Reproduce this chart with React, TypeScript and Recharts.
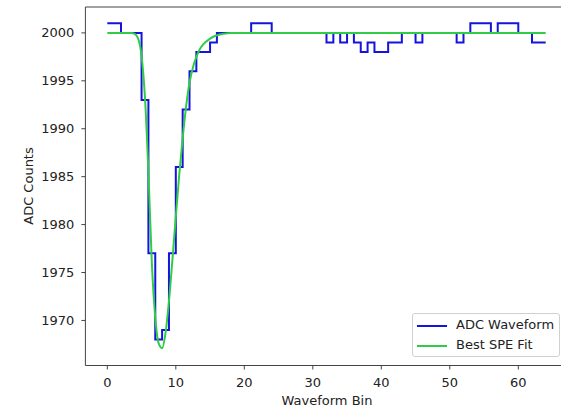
import React from 'react';
import { LineChart, Line, XAxis, YAxis, Legend, ReferenceLine } from 'recharts';

const adcValues: number[] = [
  2001, 2001, 2000, 2000, 2000, 1993, 1977, 1968, 1969, 1977,
  1986, 1992, 1996, 1998, 1998, 1999, 2000, 2000, 2000, 2000,
  2000, 2001, 2001, 2001, 2000, 2000, 2000, 2000, 2000, 2000,
  2000, 2000, 1999, 2000, 1999, 2000, 1999, 1998, 1999, 1998,
  1998, 1999, 1999, 2000, 2000, 1999, 2000, 2000, 2000, 2000,
  2000, 1999, 2000, 2001, 2001, 2001, 2000, 2001, 2001, 2001,
  2000, 2000, 1999, 1999,
];

const fitX: number[] = [0, 3, 3.5, 4, 4.5, 5, 5.5, 6, 6.5, 7, 7.5, 8, 8.5, 9, 9.5, 10, 10.5, 11, 11.5, 12, 12.5, 13, 13.5, 14, 15, 16, 17, 18, 64];
const fitY: number[] = [2000, 2000, 2000, 1999.9, 1999.4, 1997.6, 1993.2, 1985.5, 1976, 1970.3, 1967.6, 1967.1, 1968.7, 1972, 1976.3, 1980.8, 1985.2, 1989, 1992.3, 1994.8, 1996.4, 1997.5, 1998.3, 1998.8, 1999.4, 1999.75, 1999.92, 2000, 2000];

const xTicks: number[] = [0, 10, 20, 30, 40, 50, 60];
const yTicks: number[] = [1970, 1975, 1980, 1985, 1990, 1995, 2000];
const xDomain: [number, number] = [-3.2, 67.2];
const yDomain: [number, number] = [1965.3, 2002.7];

const adcData = [
  ...adcValues.map((v, i) => ({ x: i, y: v })),
  { x: adcValues.length, y: adcValues[adcValues.length - 1] },
];
const fitData = fitX.map((x, i) => ({ x, y: fitY[i] }));

const FONT = "'DejaVu Sans', sans-serif";
const BLUE = '#1414dc';
const GREEN = '#30cc46';
const AXIS = '#444';

const LegendBox = () => (
  <div
    style={{
      width: 148,
      height: 44,
      border: '1px solid #d0d0d0',
      borderRadius: 3,
      background: 'rgba(255,255,255,0.85)',
      fontFamily: FONT,
      fontSize: 13,
      color: '#222',
      position: 'relative',
      boxSizing: 'border-box',
    }}
  >
    {[
      { label: 'ADC Waveform', color: BLUE, top: 12 },
      { label: 'Best SPE Fit', color: GREEN, top: 32 },
    ].map((r) => (
      <div key={r.label}>
        <div style={{ position: 'absolute', left: 4, top: r.top - 1, width: 30, height: 2, background: r.color }} />
        <div style={{ position: 'absolute', left: 43, top: r.top - 9, lineHeight: '16px', whiteSpace: 'nowrap' }}>{r.label}</div>
      </div>
    ))}
  </div>
);

export default function App() {
  return (
    <div style={{ position: 'absolute', left: 0, top: 0, width: 561, height: 409, overflow: 'hidden', background: '#fff' }}>
      <LineChart width={580} height={409} margin={{ top: 7, right: 12.4, bottom: 0, left: 0 }}>
        <XAxis
          type="number"
          dataKey="x"
          domain={xDomain}
          allowDataOverflow
          ticks={xTicks}
          height={43.5}
          tickSize={4}
          tickMargin={8}
          axisLine={{ stroke: AXIS, strokeWidth: 1 }}
          tickLine={{ stroke: AXIS }}
          tick={{ fill: '#222', fontSize: 13, fontFamily: FONT }}
          label={{
            content: () => (
              <text x={327} y={400} textAnchor="middle" dominantBaseline="central" fill="#222" fontSize={13} fontFamily={FONT}>
                Waveform Bin
              </text>
            ),
          }}
        />
        <YAxis
          type="number"
          domain={yDomain}
          allowDataOverflow
          ticks={yTicks}
          width={85.4}
          tickSize={4}
          tickMargin={7}
          axisLine={{ stroke: AXIS, strokeWidth: 1 }}
          tickLine={{ stroke: AXIS }}
          tick={{ fill: '#222', fontSize: 13, fontFamily: FONT }}
          label={{
            content: () => (
              <text x={28} y={186} transform="rotate(-90 28 186)" textAnchor="middle" dominantBaseline="central" fill="#222" fontSize={13} fontFamily={FONT}>
                ADC Counts
              </text>
            ),
          }}
        />
        <ReferenceLine y={yDomain[1]} stroke={AXIS} strokeWidth={1} ifOverflow="extendDomain" />
        <ReferenceLine x={xDomain[1]} stroke={AXIS} strokeWidth={1} ifOverflow="extendDomain" />
        <Legend
          layout="vertical"
          align="center"
          verticalAlign="middle"
          wrapperStyle={{ left: 412, top: 313, width: 148 }}
          content={() => <LegendBox />}
        />
        <Line
          data={adcData}
          dataKey="y"
          name="ADC Waveform"
          type="stepAfter"
          stroke={BLUE}
          strokeWidth={2}
          dot={false}
          activeDot={false}
          isAnimationActive={false}
        />
        <Line
          data={fitData}
          dataKey="y"
          name="Best SPE Fit"
          type="monotone"
          stroke={GREEN}
          strokeWidth={2}
          dot={false}
          activeDot={false}
          isAnimationActive={false}
        />
      </LineChart>
    </div>
  );
}
